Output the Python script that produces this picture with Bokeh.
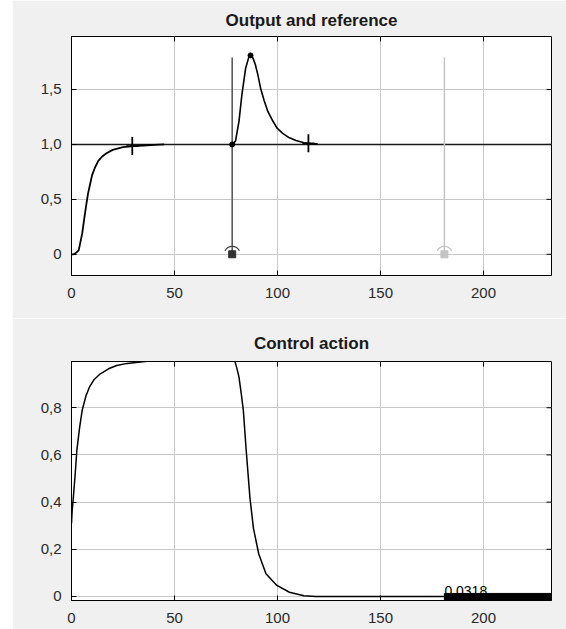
from bokeh.plotting import figure
from bokeh.layouts import column
from bokeh.models import FixedTicker, CustomJSTickFormatter, Range1d, Label
from bokeh.embed import file_html
from bokeh.resources import INLINE

# ---------------- data ----------------
x_ticks = [0, 50, 100, 150, 200]
y_ticks_top = [0, 0.5, 1.0, 1.5]
y_ticks_bottom = [0, 0.2, 0.4, 0.6, 0.8]
x_limits = [0, 233]
y_limits_top = [-0.193, 1.982]
y_limits_bottom = [-0.017, 0.996]

# output: set-point step response
t_rise = [0, 1, 2, 3.5, 5.2, 6, 7, 8, 8.7, 10, 11.4, 13, 14.9, 17, 20, 25, 30, 35, 40, 45]
y_rise = [0, 0, 0.01, 0.036, 0.19, 0.30, 0.43, 0.55, 0.61, 0.72, 0.79, 0.85, 0.89, 0.92,
          0.95, 0.975, 0.985, 0.99, 0.995, 1.0]
# output: disturbance response
t_dist = [78, 79.6, 81.3, 82.7, 84.5, 86, 86.9, 88, 89.2, 90.5, 91.8, 93.5, 95.3, 97.5,
          99.7, 102.5, 105.8, 109, 112.8, 116, 119.5]
y_dist = [1.0, 1.03, 1.21, 1.45, 1.69, 1.79, 1.81, 1.79, 1.73, 1.63, 1.51, 1.40, 1.30,
          1.22, 1.15, 1.10, 1.06, 1.035, 1.015, 1.008, 1.005]
# reference
ref_t = [0, 233]
ref_y = [1.0, 1.0]
# settling marks (+)
settle_t = [29.5, 115]
settle_y = [0.985, 1.01]
# points
dot_t = [78, 86.9]
dot_y = [1.0, 1.81]
# disturbance marker (active) and future marker (inactive)
marker_active_t = 78
marker_inactive_t = 181
marker_top = 1.79

# control action
u_t = [0, 0.3, 0.9, 1.8, 2.6, 4, 5.2, 7, 8.7, 11, 14, 18, 21.9, 27, 32.4, 40, 79.2,
       80.2, 81.3, 82.4, 83.4, 84.8, 86.6, 88.3, 90.9, 94.4, 99.7, 105.8, 112.8, 118.6,
       150, 181]
u_y = [0.31, 0.36, 0.42, 0.52, 0.62, 0.72, 0.79, 0.85, 0.887, 0.92, 0.944, 0.965, 0.979,
       0.988, 0.993, 1.0, 1.0, 0.97, 0.93, 0.86, 0.79, 0.62, 0.42, 0.29, 0.18, 0.096,
       0.047, 0.018, 0.003, 0.0, 0.0, 0.0]
u_bar_start = 181
u_bar_end = 233
u_bar_top = 0.013
u_value_text = "0.0318"

# ---------------- styling ----------------
BG = "#f0f0f0"
GRID = "#c8c8c8"
FONT = "Liberation Sans"

fmt = CustomJSTickFormatter(code='return tick == 0 ? "0" : tick.toFixed(1).replace(".", ",");')


def make_fig(title, height, ylim, yticks, btop, bbottom, standoff):
    p = figure(width=554, height=height, x_range=Range1d(*x_limits), y_range=Range1d(*ylim),
               output_backend="svg", toolbar_location=None,
               min_border_left=59, min_border_right=15, min_border_top=btop,
               min_border_bottom=bbottom, background_fill_color="white",
               border_fill_color=BG, outline_line_color="black", outline_line_width=1)
    p.title.text = title
    p.title.align = "center"
    p.title.text_font = FONT
    p.title.text_font_size = "17px"
    p.title.text_font_style = "bold"
    p.title.text_color = "#1a1a1a"
    p.title.standoff = standoff

    p.xaxis.ticker = FixedTicker(ticks=x_ticks)
    p.yaxis.ticker = FixedTicker(ticks=yticks)
    p.yaxis.formatter = fmt
    for ax in p.xaxis + p.yaxis:
        ax.major_tick_in = 5
        ax.major_tick_out = 0
        ax.minor_tick_line_color = None
        ax.axis_line_color = "black"
        ax.major_tick_line_color = "black"
        ax.major_label_text_font = FONT
        ax.major_label_text_font_size = "15px"
        ax.major_label_text_color = "#2a2a2a"
    p.xaxis.major_label_standoff = 12
    p.yaxis.major_label_standoff = 10

    p.xgrid.ticker = FixedTicker(ticks=x_ticks)
    p.ygrid.ticker = FixedTicker(ticks=yticks)
    p.grid.grid_line_color = GRID
    p.grid.grid_line_width = 1

    # inner ticks on the right and top edges of the box
    p.scatter([x_limits[1]] * len(yticks), yticks, marker="dash", size=10,
              line_color="black", line_width=1)
    p.scatter(x_ticks, [ylim[1]] * len(x_ticks), marker="dash", size=10, angle=1.5708,
              line_color="black", line_width=1)
    return p


# ---------------- top plot ----------------
p1 = make_fig("Output and reference", 318, y_limits_top, y_ticks_top, 36, 43, 14)
p1.line(ref_t, ref_y, line_color="#1a1a1a", line_width=1.5)
p1.line(t_rise, y_rise, line_color="black", line_width=1.8)
p1.line(t_dist, y_dist, line_color="black", line_width=1.6)

# vertical marker lines
p1.line([marker_active_t, marker_active_t], [0, marker_top], line_color="#505050", line_width=1.5)
p1.line([marker_inactive_t, marker_inactive_t], [0, marker_top], line_color="#c4c4c4", line_width=1.5)

# handles
p1.arc(x=[marker_active_t], y=[0], radius=8, radius_units="screen", start_angle=0.45,
       end_angle=2.69, line_color="#404040", line_width=1.2)
p1.scatter([marker_active_t], [0], marker="square", size=7, color="#303030")
p1.arc(x=[marker_inactive_t], y=[0], radius=8, radius_units="screen", start_angle=0.45,
       end_angle=2.69, line_color="#c4c4c4", line_width=1.2)
p1.scatter([marker_inactive_t], [0], marker="square", size=7, color="#c4c4c4")

# settling crosses
p1.scatter(settle_t, settle_y, marker="dash", size=12, line_color="black", line_width=1.8)
p1.scatter(settle_t, settle_y, marker="dash", size=18, angle=1.5708, line_color="black",
           line_width=1.8)
p1.scatter(dot_t, dot_y, marker="circle", size=5, color="black")

# ---------------- bottom plot ----------------
p2 = make_fig("Control action", 311, y_limits_bottom, y_ticks_bottom, 43, 29, 17)
p2.line(u_t, u_y, line_color="black", line_width=1.5)
p2.quad(left=[u_bar_start], right=[u_bar_end], bottom=[y_limits_bottom[0]], top=[u_bar_top],
        color="black")
p2.add_layout(Label(x=u_bar_start, y=u_bar_top, text=u_value_text, text_font=FONT,
                    text_font_size="14px", text_baseline="alphabetic", text_align="left",
                    text_color="black", y_offset=2))

layout = column(p1, p2, spacing=0, margin=(0, 0, 0, 12))
open("out.html", "w").write(file_html(layout, INLINE))
